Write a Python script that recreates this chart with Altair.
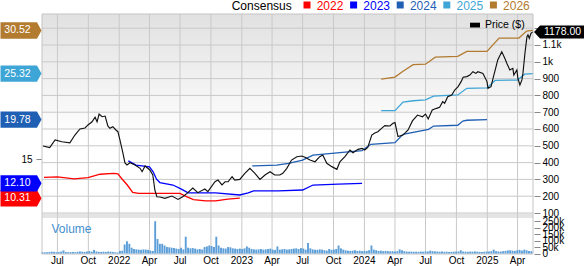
import altair as alt
import pandas as pd

# ---------------- data ----------------
price_dates = [
    "2021-05-19", "2021-06-08", "2021-06-24", "2021-07-14", "2021-08-07", "2021-08-22",
    "2021-09-06", "2021-09-21", "2021-09-30", "2021-10-12", "2021-10-21", "2021-10-27",
    "2021-11-02", "2021-11-11", "2021-11-20", "2021-11-28", "2021-12-04", "2021-12-13",
    "2021-12-22", "2021-12-28", "2022-01-03", "2022-01-12", "2022-01-18", "2022-01-24",
    "2022-02-02", "2022-02-17", "2022-03-04", "2022-03-10", "2022-03-19", "2022-04-02",
    "2022-04-11", "2022-04-17", "2022-04-23", "2022-05-02", "2022-05-17", "2022-06-07",
    "2022-06-25", "2022-07-09", "2022-07-21", "2022-08-08", "2022-08-23", "2022-09-13",
    "2022-09-22", "2022-10-13", "2022-10-22", "2022-11-03", "2022-11-12", "2022-11-21",
    "2022-12-03", "2022-12-11", "2022-12-26", "2023-01-10", "2023-01-25", "2023-02-09",
    "2023-02-24", "2023-03-11", "2023-03-26", "2023-04-09", "2023-04-24", "2023-05-03",
    "2023-05-15", "2023-05-29", "2023-06-14", "2023-06-29", "2023-07-08", "2023-07-23",
    "2023-08-07", "2023-08-21", "2023-08-30", "2023-09-11", "2023-09-26", "2023-10-11",
    "2023-10-20", "2023-11-04", "2023-11-19", "2023-11-28", "2023-12-13", "2023-12-25",
    "2024-01-02", "2024-01-11", "2024-01-23", "2024-02-01", "2024-02-10", "2024-02-21",
    "2024-03-02", "2024-03-17", "2024-03-26", "2024-04-01", "2024-04-10", "2024-04-25",
    "2024-05-10", "2024-05-23", "2024-06-07", "2024-06-22", "2024-07-01", "2024-07-09",
    "2024-07-21", "2024-08-03", "2024-08-12", "2024-08-21", "2024-08-27", "2024-09-05",
    "2024-09-17", "2024-09-26", "2024-10-06", "2024-10-15", "2024-10-21", "2024-11-01",
    "2024-11-10", "2024-11-19", "2024-11-28", "2024-12-04", "2024-12-19", "2024-12-31",
    "2025-01-03", "2025-01-12", "2025-01-18", "2025-01-27", "2025-02-01", "2025-02-13",
    "2025-02-22", "2025-02-28", "2025-03-09", "2025-03-18", "2025-03-21", "2025-03-30",
    "2025-04-02", "2025-04-08", "2025-04-14", "2025-04-17", "2025-04-23", "2025-04-29",
    "2025-05-02", "2025-05-06", "2025-05-11", "2025-05-16",
]
price_vals = [
    499, 489, 535, 524, 518, 564,
    600, 606, 624, 643, 670, 643,
    689, 673, 677, 618, 604, 614,
    594, 584, 535, 457, 398, 386,
    399, 386, 366, 346, 380, 356,
    326, 237, 197, 195, 187, 201,
    181, 197, 215, 249, 221, 243,
    227, 286, 296, 267, 286, 286,
    316, 296, 300, 336, 366, 336,
    300, 326, 346, 326, 326, 336,
    366, 415, 435, 439, 432, 415,
    405, 435, 445, 396, 376, 360,
    405, 435, 475, 459, 479, 485,
    475, 491, 564, 576, 584, 604,
    620, 618, 634, 638, 555, 564,
    594, 648, 683, 673, 689, 660,
    713, 723, 729, 763, 753, 792,
    802, 832, 852, 882, 908, 912,
    921, 941, 931, 941, 931, 882,
    842, 852, 902, 971, 1011, 1060,
    1021, 991, 951, 961, 921, 951,
    902, 862, 892, 931, 1051, 1149,
    1160, 1140, 1170, 1178,
]

eps_years = ["2022", "2023", "2024", "2025", "2026"]
eps_colors = ["#ff0000", "#0000ff", "#1f5fb4", "#3ea6d6", "#b27b2f"]

eps_2022_dates = ["2021-05-22", "2021-07-01", "2021-08-20", "2021-09-30", "2021-11-05",
                  "2021-12-15", "2021-12-28", "2022-01-10", "2022-01-25", "2022-02-10",
                  "2022-02-28", "2022-05-01", "2022-07-01", "2022-07-20", "2022-08-10",
                  "2022-09-15", "2022-10-15", "2022-11-20", "2022-12-26"]
eps_2022_vals = [12.83, 12.88, 12.65, 12.78, 13.2, 13.3, 13.25, 12.6, 11.9, 11.0,
                 10.9, 10.9, 10.9, 10.5, 10.15, 10.0, 10.0, 10.2, 10.31]

eps_2023_dates = ["2022-01-28", "2022-02-20", "2022-04-01", "2022-04-12", "2022-04-22",
                  "2022-05-02", "2022-06-10", "2022-07-05", "2022-07-25", "2022-10-15",
                  "2022-12-26", "2023-01-20", "2023-02-05", "2023-04-20", "2023-07-01",
                  "2023-08-01", "2023-10-15", "2023-12-25"]
eps_2023_vals = [14.8, 14.3, 14.1, 13.5, 12.6, 12.2, 11.9, 11.4, 10.95, 10.95,
                 10.7, 10.95, 11.2, 11.2, 11.3, 11.9, 12.0, 12.1]

eps_2024_dates = ["2023-02-01", "2023-04-15", "2023-05-20", "2023-07-01", "2023-08-01",
                  "2023-10-20", "2023-12-25", "2024-01-20", "2024-04-01", "2024-04-25",
                  "2024-07-10", "2024-07-25", "2024-10-05", "2024-10-20", "2024-11-01",
                  "2024-12-31"]
eps_2024_vals = [14.2, 14.3, 14.5, 14.9, 15.5, 15.8, 16.05, 16.8, 17.0, 18.0,
                 18.6, 19.0, 19.1, 19.6, 19.7, 19.78]

eps_2025_dates = ["2024-02-20", "2024-04-01", "2024-04-25", "2024-05-25", "2024-07-01",
                  "2024-07-25", "2024-10-05", "2024-11-01", "2024-12-31", "2025-01-24",
                  "2025-04-01", "2025-04-22", "2025-05-16"]
eps_2025_vals = [20.85, 20.85, 21.9, 22.05, 22.15, 22.6, 22.75, 23.55, 23.6, 24.5,
                 24.55, 25.25, 25.32]

eps_2026_dates = ["2024-02-20", "2024-04-01", "2024-04-25", "2024-05-25", "2024-07-01",
                  "2024-07-30", "2024-10-05", "2024-11-01", "2024-12-31", "2025-02-05",
                  "2025-04-05", "2025-04-28", "2025-05-16"]
eps_2026_vals = [24.65, 24.9, 25.6, 26.4, 26.45, 27.3, 27.4, 28.0, 28.0, 29.6,
                 29.6, 30.45, 30.52]

eps_last = [10.31, 12.10, 19.78, 25.32, 30.52]

vol_start = "2021-05-17"   # weekly bars, thousands of shares
vol_vals = [
    8, 9, 10, 12, 14, 13, 10, 11, 15, 24, 12, 10, 11, 12, 10, 13, 15, 14, 12, 16,
    18, 14, 28, 16, 13, 12, 14, 12, 15, 14, 12, 9, 8,
    20, 22, 70, 95, 75, 45, 35, 32, 30, 28,
    32, 30, 28, 22, 20, 250, 112, 75, 75, 62,
    50, 48, 45, 42, 38, 35, 45, 32, 130, 45,
    40, 42, 38, 32, 35, 30, 50, 55, 62, 58,
    50, 130, 62, 45, 40, 38, 50, 48, 40, 38,
    35, 38, 35, 40, 55, 45, 35, 32, 30, 32,
    35, 30, 32, 35, 38, 30, 28, 55, 30, 32,
    35, 30, 32,
    35, 38, 40, 35, 42, 38, 30, 82, 40, 32,
    30, 28, 32, 30, 25, 22, 35, 28, 30, 35,
    62, 40, 30, 25, 22, 20, 22, 25, 20, 22,
    18, 20, 20, 25, 62, 30, 25, 20, 22, 18,
    20, 18, 17, 18, 15, 18, 32, 25, 18, 15,
    14, 15, 13, 14, 13, 15, 14, 16, 15, 22,
    18, 16, 15, 14, 15, 13, 14, 12, 13, 14,
    15, 16, 25, 15, 14, 13, 15, 14, 16, 14,
    13, 12, 14, 15, 16, 18, 30, 18, 16, 15,
    18, 20, 24, 25, 22, 20, 25, 28, 22, 30,
    25, 20, 18,
]

x_tick_dates = ["2021-07-01", "2021-10-01", "2022-01-01", "2022-04-01", "2022-07-01",
                "2022-10-01", "2023-01-01", "2023-04-01", "2023-07-01", "2023-10-01",
                "2024-01-01", "2024-04-01", "2024-07-01", "2024-10-01", "2025-01-01",
                "2025-04-01"]
x_tick_labels = ["Jul", "Oct", "2022", "Apr", "Jul", "Oct", "2023", "Apr", "Jul", "Oct",
                 "2024", "Apr", "Jul", "Oct", "2025", "Apr"]
price_ticks = [100, 200, 300, 400, 500, 600, 700, 800, 900, 1000, 1100, 1200]
vol_ticks = [0, 50, 100, 150, 200, 250]
eps_ticks = [15]

# ---------------- tables ----------------
price_df = pd.DataFrame({"date": price_dates, "price": price_vals})
eps_frames = []
for yr, ds, vs in zip(eps_years,
                      [eps_2022_dates, eps_2023_dates, eps_2024_dates, eps_2025_dates, eps_2026_dates],
                      [eps_2022_vals, eps_2023_vals, eps_2024_vals, eps_2025_vals, eps_2026_vals]):
    eps_frames.append(pd.DataFrame({"date": ds, "eps": vs, "year": yr}))
eps_df = pd.concat(eps_frames, ignore_index=True)
vol_df = pd.DataFrame({
    "date": pd.date_range(vol_start, periods=len(vol_vals), freq="7D").strftime("%Y-%m-%d"),
    "vol": vol_vals,
})
badge_df = pd.DataFrame({"year": eps_years, "v": eps_last,
                         "label": [f"{v:.2f}" for v in eps_last]})
pbadge_df = pd.DataFrame({"p": [price_vals[-1]], "label": [f"{price_vals[-1]:.2f}"]})
legend_df = pd.DataFrame({"year": eps_years})
xlab_df = pd.DataFrame({"d": x_tick_dates, "label": x_tick_labels})
one = pd.DataFrame({"k": [0]})

# ---------------- geometry / scales ----------------
W, H, PH, VTOP, VBASE = 491, 240, 199, 204, 239.5
FONT = "Liberation Sans"
GRID = "#c9c9c9"


def ms(s):
    return int(pd.Timestamp(s, tz="UTC").value // 10**6)


x_scale = alt.Scale(type="utc", domain=[ms("2021-05-16"), ms("2025-05-17")], padding=0, nice=False)
price_scale = alt.Scale(domain=[100, 1284.5], range=[PH, 0], nice=False, zero=False)
eps_scale = alt.Scale(domain=[8.53, 32.5], range=[PH, 0], nice=False, zero=False)
vol_scale = alt.Scale(domain=[0, 275], range=[VBASE, VTOP], nice=False, zero=True)
color_scale = alt.Scale(domain=eps_years, range=eps_colors)

price_axis = alt.Axis(
    orient="right", values=price_ticks, title=None, grid=False, domain=False,
    labelExpr="datum.value >= 1200 ? '' : datum.value >= 1000 ? (datum.value / 1000) + 'k' : '' + datum.value",
    tickSize=6, offset=1, tickColor="#888", labelPadding=2, labelFontSize=10,
    labelOverlap=False, labelColor="#000", labelFlush=False,
)
vol_axis = alt.Axis(
    orient="right", values=vol_ticks, title=None, grid=False, domain=False,
    labelExpr="datum.value == 0 ? '0' : datum.value + 'k'",
    tickSize=6, offset=1, tickColor="#888", labelPadding=2, labelFontSize=10,
    labelOverlap=False, labelColor="#000", labelFlush=False,
)
eps_axis = alt.Axis(
    orient="left", values=eps_ticks, title=None, grid=False, domain=False,
    tickSize=6, tickColor="#888", labelPadding=4, labelFontSize=10, labelColor="#000",
)

# ---------------- layers ----------------
bg = alt.Chart(one).mark_rect(
    fill=alt.LinearGradient(
        gradient="linear", x1=0, x2=0, y1=0, y2=1,
        stops=[alt.GradientStop(color="#e1e1e1", offset=0),
               alt.GradientStop(color="#ffffff", offset=0.62)],
    ),
    strokeWidth=0,
).encode(x=alt.value(0), x2=alt.value(W), y=alt.value(0), y2=alt.value(PH))

band = alt.Chart(one).mark_rect(fill="#e4e4e4", strokeWidth=0).encode(
    x=alt.value(0), x2=alt.value(W), y=alt.value(PH + 0.5), y2=alt.value(VTOP)
)

hgrid = alt.Chart(pd.DataFrame({"p": price_ticks})).mark_rule(color=GRID, strokeWidth=1).encode(
    y=alt.Y("p:Q", scale=price_scale, axis=None)
)
vgrid = alt.Chart(pd.DataFrame({"d": x_tick_dates})).mark_rule(color=GRID, strokeWidth=1).encode(
    x=alt.X("d:T", scale=x_scale, axis=None)
)
xlabels = alt.Chart(xlab_df).mark_text(
    fontSize=10, color="#000", align="center", baseline="middle"
).encode(
    x=alt.X("d:T", scale=x_scale, axis=None), y=alt.value(H + 6.7), text="label:N"
)

frame = alt.Chart(one).mark_rect(filled=False, stroke="#c4c4c4", strokeWidth=1, fillOpacity=0).encode(
    x=alt.value(0), x2=alt.value(W), y=alt.value(0), y2=alt.value(H)
)

vol_bars = alt.Chart(vol_df).mark_bar(size=1.9, color="#5b9ed8").encode(
    x=alt.X("date:T", scale=x_scale, axis=None),
    y=alt.Y("vol:Q", scale=vol_scale, axis=vol_axis),
)

eps_lines = alt.Chart(eps_df).mark_line(strokeWidth=1.3).encode(
    x=alt.X("date:T", scale=x_scale, axis=None),
    y=alt.Y("eps:Q", scale=eps_scale, axis=eps_axis),
    color=alt.Color("year:N", scale=color_scale, legend=None),
)

price_line = alt.Chart(price_df).mark_line(color="#111111", strokeWidth=1.15).encode(
    x=alt.X("date:T", scale=x_scale, axis=None),
    y=alt.Y("price:Q", scale=price_scale, axis=price_axis),
)

badge_shape = "M-1,-0.4 L0.78,-0.4 L1,0 L0.78,0.4 L-1,0.4 Z"
badges = alt.Chart(badge_df).mark_point(
    shape=badge_shape, size=1681, filled=True, opacity=1, strokeWidth=0
).encode(
    x=alt.value(-21),
    y=alt.Y("v:Q", scale=eps_scale, axis=None),
    color=alt.Color("year:N", scale=color_scale, legend=None),
)
badge_text = alt.Chart(badge_df).mark_text(
    color="white", fontSize=10.5, align="center", baseline="middle"
).encode(x=alt.value(-24.5), y=alt.Y("v:Q", scale=eps_scale, axis=None), text="label:N")

pb_shape = "M-1,0 L-0.76,-0.26 L1,-0.26 L1,0.26 L-0.76,0.26 Z"
price_badge = alt.Chart(pbadge_df).mark_point(
    shape=pb_shape, size=2500, filled=True, opacity=1, color="#000000", strokeWidth=0
).encode(x=alt.value(517), y=alt.Y("p:Q", scale=price_scale, axis=None))
price_badge_text = alt.Chart(pbadge_df).mark_text(
    color="white", fontSize=10.5, align="center", baseline="middle"
).encode(x=alt.value(520.5), y=alt.Y("p:Q", scale=price_scale, axis=None), text="label:N")

legend_base = alt.Chart(legend_df).transform_window(idx="row_number()").transform_calculate(
    lx="265 + 46.6 * (datum.idx - 1)", tx="274.7 + 46.6 * (datum.idx - 1)"
)
legend_sq = legend_base.mark_square(size=49, opacity=1).encode(
    x=alt.X("lx:Q", scale=None), y=alt.value(-9),
    color=alt.Color("year:N", scale=color_scale, legend=None),
)
legend_txt = legend_base.mark_text(align="left", baseline="alphabetic", fontSize=12).encode(
    x=alt.X("tx:Q", scale=None), y=alt.value(-4.5), text="year:N",
    color=alt.Color("year:N", scale=color_scale, legend=None),
)
consensus_txt = alt.Chart(one).mark_text(
    align="left", baseline="alphabetic", fontSize=12, color="#000", text="Consensus"
).encode(x=alt.value(189.7), y=alt.value(-4.5))

price_leg_rect = alt.Chart(one).mark_rect(color="#000").encode(
    x=alt.value(428), x2=alt.value(438), y=alt.value(8.7), y2=alt.value(13.5)
)
price_leg_txt = alt.Chart(one).mark_text(
    align="left", baseline="middle", fontSize=10.5, color="#000", text="Price ($)"
).encode(x=alt.value(443), y=alt.value(11.3))

volume_txt = alt.Chart(one).mark_text(
    align="left", baseline="middle", fontSize=12, color="#3f8fd2", text="Volume"
).encode(x=alt.value(9.5), y=alt.value(214.7))

chart = alt.layer(
    bg, band, hgrid, vgrid, frame, vol_bars, eps_lines, price_line,
    badges, badge_text, price_badge, price_badge_text, xlabels,
    legend_sq, legend_txt, consensus_txt, price_leg_rect, price_leg_txt, volume_txt,
).resolve_scale(y="independent").properties(
    width=W, height=H,
    padding={"left": 42, "top": 14, "right": 51, "bottom": 12},
    autosize=alt.AutoSizeParams(type="none"),
).configure(font=FONT).configure_view(stroke=None)

chart.save("out.html", embed_options={"renderer": "svg", "actions": False})
